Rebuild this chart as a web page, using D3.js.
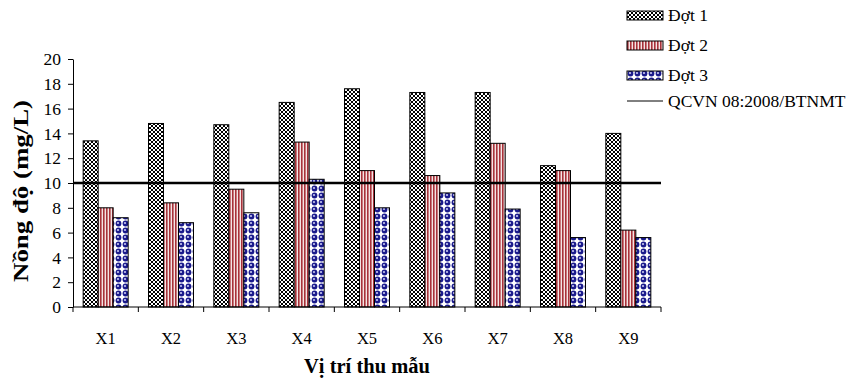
<html>
<head>
<script src="https://d3js.org/d3.v7.min.js"></script>
<style>
  body { margin: 0; background: #fff; }
  svg text { font-family: "Liberation Serif", "DejaVu Serif", serif; fill: #000; }
  .axis path, .axis line { stroke: #000; stroke-width: 1px; }
</style>
</head>
<body>
<svg id="chart" width="847" height="385"></svg>
<script>
// data
const sites = ["X1", "X2", "X3", "X4", "X5", "X6", "X7", "X8", "X9"];
const dot1 = [13.4, 14.8, 14.7, 16.5, 17.6, 17.3, 17.3, 11.4, 14.0];
const dot2 = [8.0, 8.4, 9.5, 13.3, 11.0, 10.6, 13.2, 11.0, 6.2];
const dot3 = [7.2, 6.8, 7.6, 10.3, 8.0, 9.2, 7.9, 5.6, 5.6];
const seriesNames = ["Đợt 1", "Đợt 2", "Đợt 3"];
const limitName = "QCVN 08:2008/BTNMT";
const limitValue = 10;
const yTicks = [0, 2, 4, 6, 8, 10, 12, 14, 16, 18, 20];

const FONT = "'Liberation Serif', 'DejaVu Serif', serif";
const svg = d3.select("#chart");
const margin = { top: 59, right: 186, bottom: 78, left: 73 };
const width = 847 - margin.left - margin.right;
const height = 385 - margin.top - margin.bottom;

// fill patterns
const defs = svg.append("defs");
const p1 = defs.append("pattern").attr("id", "pat1").attr("patternUnits", "userSpaceOnUse")
  .attr("width", 4).attr("height", 4);
p1.append("rect").attr("width", 4).attr("height", 4).attr("fill", "#fff");
p1.append("rect").attr("width", 2).attr("height", 2).attr("fill", "#000");
p1.append("rect").attr("x", 2).attr("y", 2).attr("width", 2).attr("height", 2).attr("fill", "#000");

const p2 = defs.append("pattern").attr("id", "pat2").attr("patternUnits", "userSpaceOnUse")
  .attr("width", 3).attr("height", 3);
p2.append("rect").attr("width", 3).attr("height", 3).attr("fill", "#f4e4e4");
p2.append("rect").attr("width", 1.6).attr("height", 3).attr("fill", "#a8323a");

const p3 = defs.append("pattern").attr("id", "pat3").attr("patternUnits", "userSpaceOnUse")
  .attr("width", 7).attr("height", 7);
p3.append("rect").attr("width", 7).attr("height", 7).attr("fill", "#fff");
p3.append("circle").attr("cx", 3.5).attr("cy", 3.5).attr("r", 2.9).attr("fill", "#1a1a8c");
p3.append("circle").attr("cx", 3.0).attr("cy", 3.0).attr("r", 1.1).attr("fill", "#c8c8f0");
const fills = ["url(#pat1)", "url(#pat2)", "url(#pat3)"];

const g = svg.append("g").attr("transform", "translate(" + margin.left + "," + margin.top + ")");

const x = d3.scaleBand().domain(sites).range([0, width]);
const y = d3.scaleLinear().domain([0, 20]).range([height, 0]);
const barW = 15;
const x1 = d3.scaleBand().domain([0, 1, 2]).range([0, barW * 3]);
const groupOffset = (x.bandwidth() - barW * 3) / 2;

const series = [dot1, dot2, dot3];
series.forEach((vals, s) => {
  g.selectAll(".bar" + s).data(vals).enter().append("rect")
    .attr("class", "bar" + s)
    .attr("x", (d, i) => x(sites[i]) + groupOffset + x1(s))
    .attr("y", d => y(d))
    .attr("width", barW)
    .attr("height", d => height - y(d))
    .attr("fill", fills[s])
    .attr("stroke", "#000")
    .attr("stroke-width", 1);
});

// y axis
const yAxis = g.append("g").attr("class", "axis")
  .call(d3.axisLeft(y).tickValues(yTicks).tickSize(5).tickSizeOuter(0).tickPadding(7));
yAxis.attr("font-family", FONT).attr("font-size", 17.5);

// x axis with ticks at band edges
const xAxis = g.append("g").attr("class", "axis").attr("transform", "translate(0," + height + ")");
xAxis.append("line").attr("x1", 0).attr("x2", width).attr("stroke", "#000");
xAxis.selectAll(".xt").data(sites.concat(["end"])).enter().append("line")
  .attr("x1", (d, i) => i * x.step()).attr("x2", (d, i) => i * x.step())
  .attr("y1", 0).attr("y2", 5).attr("stroke", "#000");
xAxis.selectAll(".xl").data(sites).enter().append("text")
  .attr("x", d => x(d) + x.bandwidth() / 2)
  .attr("y", 37)
  .attr("text-anchor", "middle")
  .attr("font-family", FONT)
  .attr("font-size", 16.5)
  .text(d => d);

// limit line
g.append("line")
  .attr("x1", 0).attr("x2", width)
  .attr("y1", y(limitValue)).attr("y2", y(limitValue))
  .attr("stroke", "#000").attr("stroke-width", 2.5);

// axis titles
svg.append("text")
  .attr("transform", "translate(28," + (margin.top + height / 2 + 8) + ") rotate(-90)")
  .attr("text-anchor", "middle")
  .attr("font-family", FONT)
  .attr("font-size", 21).attr("font-weight", "bold")
  .attr("textLength", 182).attr("lengthAdjust", "spacingAndGlyphs")
  .text("Nồng độ (mg/L)");
svg.append("text")
  .attr("x", margin.left + width / 2).attr("y", 373)
  .attr("text-anchor", "middle")
  .attr("font-family", FONT)
  .attr("font-size", 20.5).attr("font-weight", "bold")
  .text("Vị trí thu mẫu");

// legend
const legend = svg.append("g").attr("transform", "translate(627,0)")
  .attr("font-family", FONT).attr("font-size", 17.5);
seriesNames.forEach((name, i) => {
  const ly = 15 + i * 30;
  legend.append("rect").attr("x", 0).attr("y", ly - 4).attr("width", 36).attr("height", 9)
    .attr("fill", fills[i]).attr("stroke", "#000").attr("stroke-width", 1);
  legend.append("text").attr("x", 41).attr("y", ly + 6).text(name);
});
legend.append("line").attr("x1", 0).attr("x2", 36).attr("y1", 101).attr("y2", 101)
  .attr("stroke", "#000").attr("stroke-width", 1);
legend.append("text").attr("x", 41).attr("y", 107).text(limitName);
</script>
</body>
</html>
